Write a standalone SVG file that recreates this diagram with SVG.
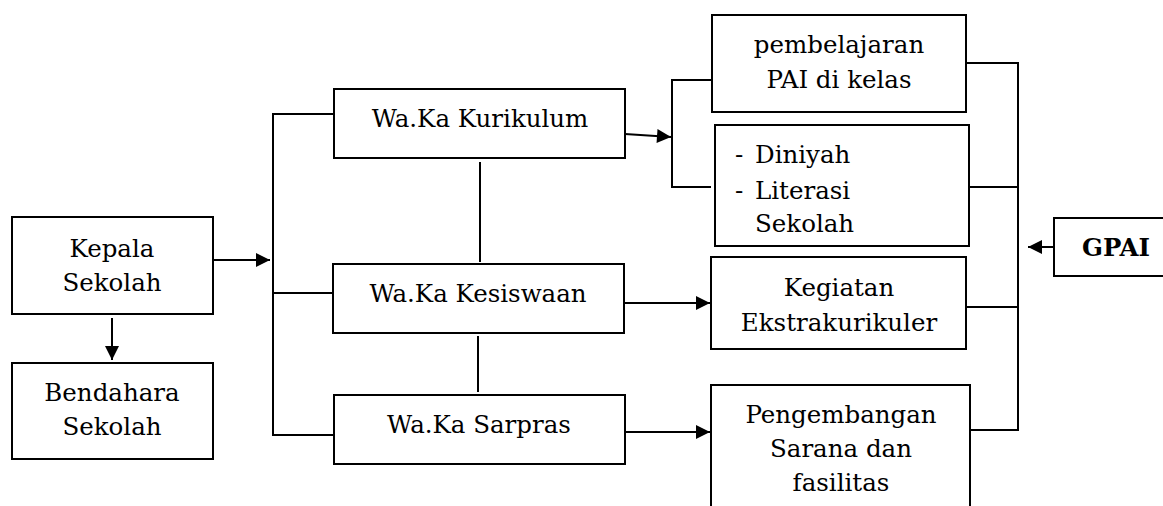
<svg xmlns="http://www.w3.org/2000/svg" width="1163" height="506" viewBox="0 0 1163 506">
<defs>
<style>
.box{fill:#fff;stroke:#000;stroke-width:2}
.ln{fill:none;stroke:#000;stroke-width:2}
text{font-family:"DejaVu Serif","Liberation Serif",serif;font-size:24.5px;fill:#000}
.c{text-anchor:middle}
.b{font-weight:bold}
</style>
<marker id="ah" viewBox="0 0 10 10" refX="10" refY="5" markerWidth="15" markerHeight="14" markerUnits="userSpaceOnUse" orient="auto">
<path d="M0,0 L10,5 L0,10 Z" fill="#000"/>
</marker>
</defs>
<rect width="1163" height="506" fill="#fff"/>
<g id="connectors">
<line class="ln" x1="213" y1="260" x2="270" y2="260" marker-end="url(#ah)"/>
<line class="ln" x1="112" y1="318" x2="112" y2="360" marker-end="url(#ah)"/>
<polyline class="ln" points="334,114 273,114 273,435 334,435"/>
<line class="ln" x1="273" y1="293" x2="333" y2="293"/>
<line class="ln" x1="480" y1="162" x2="480" y2="262"/>
<line class="ln" x1="478" y1="336" x2="478" y2="392"/>
<line class="ln" x1="625" y1="134" x2="671" y2="137" marker-end="url(#ah)"/>
<polyline class="ln" points="711,80 672,80 672,187 711,187"/>
<line class="ln" x1="624" y1="303" x2="710" y2="303" marker-end="url(#ah)"/>
<line class="ln" x1="625" y1="432" x2="710" y2="432" marker-end="url(#ah)"/>
<polyline class="ln" points="966,63 1018,63 1018,430 970,430"/>
<line class="ln" x1="969" y1="187" x2="1018" y2="187"/>
<line class="ln" x1="966" y1="307" x2="1018" y2="307"/>
<line class="ln" x1="1054" y1="247" x2="1028" y2="247" marker-end="url(#ah)"/>
</g>
<g id="kepala">
<rect class="box" x="12" y="217" width="201" height="97"/>
<text class="c" x="112" y="257">Kepala</text>
<text class="c" x="112" y="291">Sekolah</text>
</g>
<g id="bendahara">
<rect class="box" x="12" y="363" width="201" height="96"/>
<text class="c" x="112" y="401">Bendahara</text>
<text class="c" x="112" y="435">Sekolah</text>
</g>
<g id="kurikulum">
<rect class="box" x="334" y="89" width="291" height="69"/>
<text class="c" x="480" y="127">Wa.Ka Kurikulum</text>
</g>
<g id="kesiswaan">
<rect class="box" x="333" y="264" width="291" height="69"/>
<text class="c" x="478" y="302">Wa.Ka Kesiswaan</text>
</g>
<g id="sarpras">
<rect class="box" x="334" y="395" width="291" height="69"/>
<text class="c" x="479" y="433">Wa.Ka Sarpras</text>
</g>
<g id="pembelajaran">
<rect class="box" x="712" y="15" width="254" height="97"/>
<text class="c" x="839" y="53">pembelajaran</text>
<text class="c" x="839" y="88">PAI di kelas</text>
</g>
<g id="diniyah">
<rect class="box" x="715" y="125" width="254" height="121"/>
<text x="735" y="163">-</text><text x="755" y="163">Diniyah</text>
<text x="735" y="199">-</text><text x="755" y="199">Literasi</text>
<text x="755" y="232">Sekolah</text>
</g>
<g id="kegiatan">
<rect class="box" x="711" y="257" width="255" height="92"/>
<text class="c" x="839" y="296">Kegiatan</text>
<text class="c" x="839" y="331">Ekstrakurikuler</text>
</g>
<g id="pengembangan">
<rect class="box" x="711" y="385" width="259" height="130"/>
<text class="c" x="841" y="423">Pengembangan</text>
<text class="c" x="841" y="457">Sarana dan</text>
<text class="c" x="841" y="491">fasilitas</text>
</g>
<g id="gpai">
<rect class="box" x="1054" y="218" width="120" height="58"/>
<text class="b" x="1082" y="256">GPAI</text>
</g>
</svg>
